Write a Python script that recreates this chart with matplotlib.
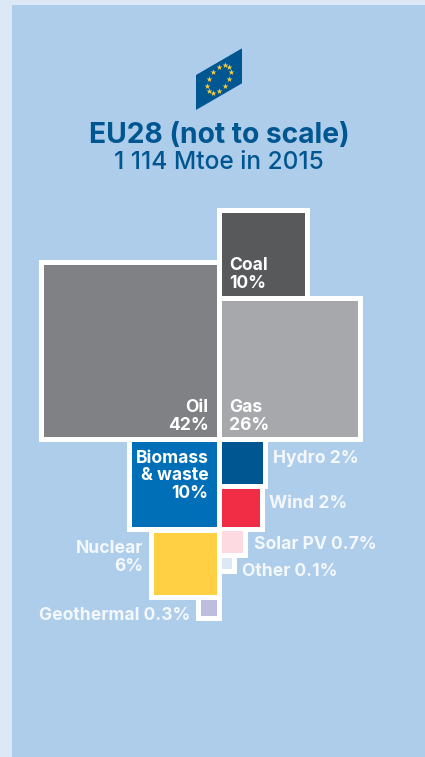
import numpy as np
from matplotlib import pyplot as plt
from matplotlib.patches import Rectangle, Polygon

plt.rcParams['font.family'] = ['Inter', 'DejaVu Sans']

# 左右两列，从上往下堆
right_names = ['Coal', 'Gas', 'Hydro', 'Wind', 'Solar PV', 'Other']
right_shares = ['10%', '26%', '2%', '2%', '0.7%', '0.1%']
right_sides = [83, 136.5, 41.5, 38, 21.7, 10.5]
right_colors = ['#58595b', '#a7a8ab', '#005691', '#f02d45', '#fdd9e1', '#dce8f5']

left_names = ['Oil', 'Biomass\n& waste', 'Nuclear', 'Geothermal']
left_shares = ['42%', '10%', '6%', '0.3%']
left_sides = [172.5, 85, 62.5, 15.5]
left_colors = ['#808184', '#006fb7', '#ffd044', '#bdbedd']

title = 'EU28 (not to scale)'
subtitle = '1 114 Mtoe in 2015'

BLUE = '#005691'
WHITE = '#f4f8fc'
GAP = 5
X_LEFT = 217
X_RIGHT = 221.7

fig = plt.figure(figsize=(4.25, 7.57), dpi=100, facecolor='#dce8f5')
ax = fig.add_axes([0, 0, 1, 1])
ax.set_xlim(0, 425)
ax.set_ylim(757, 0)
ax.axis('off')

# 背景面板
ax.add_patch(Rectangle((12, 5), 413, 752, facecolor='#aecdeb', edgecolor='none', zorder=0))

# 旗子
ax.add_patch(Polygon([(196, 75), (242, 48.3), (242, 83.3), (196, 110)], facecolor=BLUE, edgecolor='none', zorder=1))
angles = np.deg2rad(np.arange(0, 360, 30))
star_x = 219 + 12 * np.cos(angles)
star_y = 79.3 + 12 * np.sin(angles) - 0.58 * 12 * np.cos(angles)
ax.scatter(star_x, star_y, marker='*', s=20, color='#f7cf3c', linewidths=0, zorder=2)

ax.text(219, 143, title, color=BLUE, fontsize=20.3, fontweight='bold', ha='center', va='baseline')
ax.text(219, 169, subtitle, color=BLUE, fontsize=17.6, fontweight='medium', ha='center', va='baseline')


def draw_column(sides, colors, tops, left):
    for side, color, top in zip(sides, colors, tops):
        x = X_LEFT - side if left else X_RIGHT
        # 先画白框，填充放到上层
        ax.add_patch(Rectangle((x - GAP, top - GAP), side + 2 * GAP, side + 2 * GAP,
                               facecolor='white', edgecolor='none', zorder=3))
        ax.add_patch(Rectangle((x, top), side, side, facecolor=color, edgecolor='none', zorder=4))


right_tops = [212.7, 300.7, 442.3, 488.8, 531, 558]
left_tops = [264.5, 442.3, 532.5, 600]
draw_column(right_sides, right_colors, right_tops, False)
draw_column(left_sides, left_colors, left_tops, True)


def label(x, y, s, ha='left', color='white'):
    ax.text(x, y, s, color=color, fontsize=12.6, fontweight='bold', ha=ha, va='baseline',
            linespacing=1.05, zorder=5)


# 方块内标签
label(229.5, 270, right_names[0])
label(229.5, 288, right_shares[0])
label(229.5, 412, right_names[1])
label(229.5, 430, right_shares[1])
label(208.5, 412, left_names[0], ha='right')
label(208.5, 430, left_shares[0], ha='right')
label(208.5, 463, 'Biomass', ha='right')
label(208.5, 480, '& waste', ha='right')
label(208.5, 498, left_shares[1], ha='right')

# 方块外标签
label(273.5, 463, f'{right_names[2]} {right_shares[2]}', color=WHITE)
label(269.5, 508, f'{right_names[3]} {right_shares[3]}', color=WHITE)
label(254, 549, f'{right_names[4]} {right_shares[4]}', color=WHITE)
label(242.5, 575.5, f'{right_names[5]} {right_shares[5]}', color=WHITE)
label(143, 553, left_names[2], ha='right', color=WHITE)
label(143, 571, left_shares[2], ha='right', color=WHITE)
label(190.5, 620, f'{left_names[3]} {left_shares[3]}', ha='right', color=WHITE)

fig.savefig('out.png', dpi=100, facecolor=fig.get_facecolor())
